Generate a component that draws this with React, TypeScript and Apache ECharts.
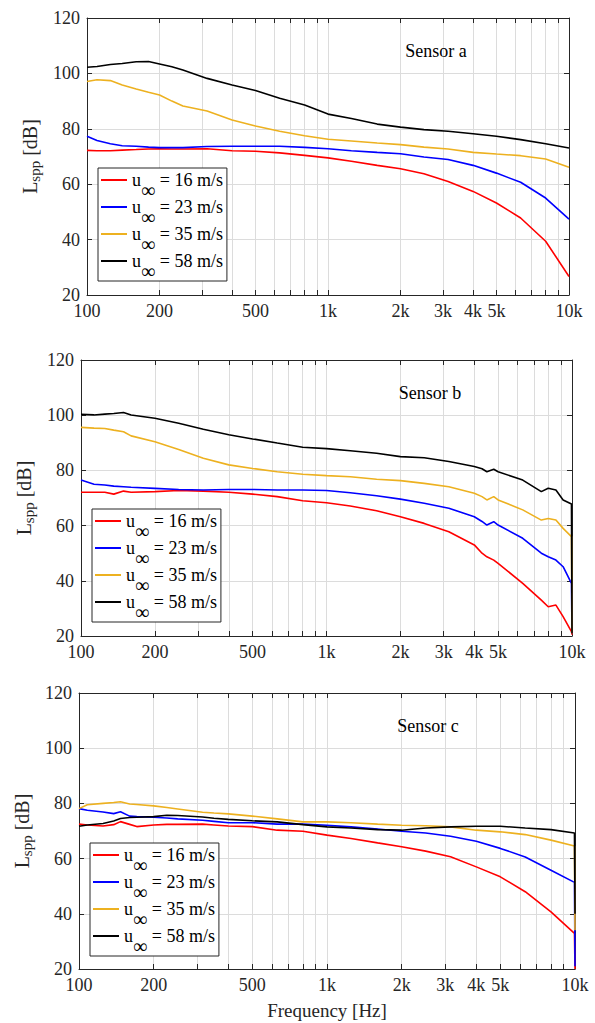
import React, { useEffect, useRef } from "react";
import * as echarts from "echarts";

// ---------- data ----------
const seriesNames = ["u∞ = 16 m/s", "u∞ = 23 m/s", "u∞ = 35 m/s", "u∞ = 58 m/s"];
const seriesColors = ["#FF0000", "#0000FF", "#EDB120", "#000000"];
const panelTitles = ["Sensor a", "Sensor b", "Sensor c"];

const xLabelValues = [100, 200, 500, 1000, 2000, 3000, 4000, 5000, 10000];
const xTickValues = [100, 200, 300, 400, 500, 600, 700, 800, 900, 1000, 2000, 3000, 4000, 5000, 6000, 7000, 8000, 9000, 10000];

// Sensor a
const freqA = [100, 110, 125, 140, 160, 180, 200, 225, 250, 315, 400, 500, 630, 800, 1000, 1250, 1600, 2000, 2500, 3150, 4000, 5000, 6300, 8000, 10000];
const a16 = [72.2, 72.1, 72.1, 72.3, 72.5, 72.7, 72.8, 72.7, 72.7, 72.8, 72.1, 71.9, 71.3, 70.4, 69.5, 68.3, 66.8, 65.6, 63.8, 61.0, 57.4, 53.2, 47.8, 39.4, 26.7];
const a23 = [77.3, 75.8, 74.6, 73.9, 73.7, 73.4, 73.2, 73.2, 73.2, 73.6, 73.7, 73.7, 73.7, 73.3, 72.8, 72.1, 71.5, 71.0, 69.8, 68.9, 66.8, 64.0, 60.7, 55.0, 47.4];
const a35 = [97.1, 97.7, 97.4, 95.8, 94.4, 93.2, 92.2, 90.0, 88.2, 86.4, 83.2, 81.0, 79.1, 77.5, 76.2, 75.6, 74.9, 74.3, 73.4, 72.7, 71.5, 70.9, 70.3, 69.1, 66.1];
const a58 = [102.2, 102.5, 103.2, 103.6, 104.2, 104.3, 103.4, 102.4, 101.2, 98.2, 95.8, 93.8, 91.0, 88.6, 85.3, 83.7, 81.7, 80.6, 79.7, 79.1, 78.2, 77.3, 76.1, 74.6, 73.1];

// Sensor b
const freqB = [100, 113, 125, 136, 149, 160, 200, 250, 315, 400, 500, 630, 800, 1000, 1250, 1600, 2000, 2500, 3150, 4000, 4300, 4500, 4800, 5000, 6300, 7500, 8000, 8600, 9200, 9950, 10000];
const b16 = [72.1, 72.1, 72.1, 71.4, 72.5, 72.1, 72.3, 72.7, 72.5, 72.1, 71.4, 70.5, 69.0, 68.3, 67.1, 65.4, 63.2, 60.8, 57.8, 53.0, 50.0, 48.7, 47.5, 46.3, 39.1, 33.0, 30.6, 31.2, 27.0, 21.6, 20.5];
const b23 = [76.5, 75.0, 74.7, 74.3, 74.1, 73.9, 73.5, 73.1, 72.9, 73.1, 73.1, 72.9, 72.9, 72.7, 71.9, 70.8, 69.6, 68.1, 66.3, 63.2, 61.5, 60.2, 61.4, 60.2, 55.4, 50.0, 48.7, 47.5, 45.1, 39.1, 21.0];
const b35 = [95.6, 95.3, 95.2, 94.6, 94.0, 92.5, 90.4, 87.6, 84.4, 82.0, 80.7, 79.5, 78.6, 78.1, 77.7, 76.8, 76.3, 75.3, 74.1, 71.7, 70.5, 69.3, 70.5, 69.3, 65.7, 62.0, 62.6, 62.0, 59.0, 56.0, 21.0];
const b58 = [100.3, 100.1, 100.4, 100.6, 101.0, 100.1, 98.9, 97.1, 94.9, 92.9, 91.4, 89.9, 88.4, 87.9, 87.1, 86.2, 85.0, 84.6, 83.2, 81.4, 80.6, 79.5, 80.4, 79.5, 76.5, 72.3, 73.5, 72.9, 69.3, 67.8, 21.0];

// Sensor c
const freqC = [100, 108, 125, 138, 147, 160, 171, 200, 226, 250, 315, 350, 400, 500, 630, 800, 1000, 1250, 1600, 2000, 2500, 3150, 4000, 5000, 6300, 8000, 9950, 10000];
const c16 = [72.5, 72.2, 71.8, 72.3, 73.4, 72.4, 71.6, 72.2, 72.4, 72.4, 72.5, 72.2, 71.8, 71.6, 70.3, 69.9, 68.5, 67.3, 65.7, 64.3, 62.7, 60.7, 57.0, 53.4, 48.0, 40.7, 32.9, 20.0];
const c23 = [78.1, 77.5, 76.9, 76.3, 77.0, 75.4, 75.2, 75.0, 74.7, 74.4, 73.9, 73.5, 73.0, 73.0, 72.5, 72.5, 72.1, 71.5, 70.7, 69.9, 69.3, 68.1, 66.3, 63.7, 60.6, 55.8, 51.4, 21.0];
const c35 = [78.1, 79.5, 80.0, 80.3, 80.6, 79.8, 79.6, 79.1, 78.5, 78.0, 76.8, 76.5, 76.2, 75.4, 74.4, 73.3, 73.3, 73.0, 72.5, 72.1, 71.9, 71.5, 70.3, 69.7, 68.7, 66.7, 64.6, 34.0];
const c58 = [71.7, 72.2, 72.7, 73.6, 74.5, 74.9, 75.0, 75.2, 75.7, 75.6, 75.1, 74.6, 74.2, 73.7, 73.3, 72.3, 71.5, 71.1, 70.5, 70.3, 71.1, 71.5, 71.7, 71.7, 71.1, 70.5, 69.3, 40.0];

const panels = [
  { freq: freqA, values: [a16, a23, a35, a58] },
  { freq: freqB, values: [b16, b23, b35, b58] },
  { freq: freqC, values: [c16, c23, c35, c58] },
];

// ---------- layout ----------
const FONT = "Liberation Serif";
const AXIS_COLOR = "#262626";
const GRID_COLOR = "#DCDCDC";
const grids = [
  { left: 87, top: 18, width: 482, height: 277 },
  { left: 81, top: 360, width: 491, height: 276 },
  { left: 79, top: 693, width: 496, height: 276 },
];
const legendPos = [
  { left: 98, top: 168 },
  { left: 92, top: 509 },
  { left: 90, top: 843 },
];

const lg = (v: number) => Math.log10(v);
const fmtFreq = (v: number) => {
  const f = Math.round(Math.pow(10, v));
  return f >= 1000 ? `${Math.round(f / 1000)}k` : `${f}`;
};

const labelFont = { fontFamily: FONT, fontSize: 18, color: AXIS_COLOR };

function buildOption() {
  const xAxis: any[] = [];
  const yAxis: any[] = [];
  const series: any[] = [];
  const legend: any[] = [];
  const graphic: any[] = [];

  grids.forEach((g, i) => {
    const tickCommon = {
      show: true,
      inside: true,
      length: 5,
      customValues: xTickValues.map(lg),
      lineStyle: { color: AXIS_COLOR, width: 1 },
    };
    xAxis.push({
      type: "value",
      gridIndex: i,
      position: "bottom",
      min: 2,
      max: 4,
      axisLine: { show: true, onZero: false, lineStyle: { color: AXIS_COLOR, width: 1 } },
      axisTick: tickCommon,
      axisLabel: {
        customValues: xLabelValues.map(lg),
        formatter: (v: number) => fmtFreq(v),
        ...labelFont,
        margin: 7,
      },
      splitLine: { show: true, lineStyle: { color: GRID_COLOR, width: 1 } },
      name: i === 2 ? "Frequency [Hz]" : "",
      nameLocation: "middle",
      nameGap: 32,
      nameTextStyle: { fontFamily: FONT, fontSize: 19, color: AXIS_COLOR },
    });
    xAxis.push({
      type: "value",
      gridIndex: i,
      position: "top",
      min: 2,
      max: 4,
      axisLine: { show: true, onZero: false, lineStyle: { color: AXIS_COLOR, width: 1 } },
      axisTick: tickCommon,
      axisLabel: { show: false },
      splitLine: { show: false },
    });
    yAxis.push({
      type: "value",
      gridIndex: i,
      position: "left",
      min: 20,
      max: 120,
      interval: 20,
      axisLine: { show: true, onZero: false, lineStyle: { color: AXIS_COLOR, width: 1 } },
      axisTick: { show: true, inside: true, length: 5, lineStyle: { color: AXIS_COLOR } },
      axisLabel: { ...labelFont, margin: 7 },
      splitLine: { show: true, lineStyle: { color: GRID_COLOR, width: 1 } },
      name: "{L|L}{s|spp}{t| [dB]}",
      nameLocation: "middle",
      nameGap: 40,
      nameTextStyle: {
        fontFamily: FONT,
        color: AXIS_COLOR,
        fontSize: 20,
        rich: {
          L: { fontFamily: FONT, fontSize: 20, color: AXIS_COLOR },
          s: { fontFamily: FONT, fontSize: 15, color: AXIS_COLOR, padding: [10, 0, 0, 0] },
          t: { fontFamily: FONT, fontSize: 20, color: AXIS_COLOR },
        },
      },
    });
    yAxis.push({
      type: "value",
      gridIndex: i,
      position: "right",
      min: 20,
      max: 120,
      interval: 20,
      axisLine: { show: true, onZero: false, lineStyle: { color: AXIS_COLOR, width: 1 } },
      axisTick: { show: true, inside: true, length: 5, lineStyle: { color: AXIS_COLOR } },
      axisLabel: { show: false },
      splitLine: { show: false },
    });

    const p = panels[i];
    p.values.forEach((vals, k) => {
      series.push({
        type: "line",
        name: seriesNames[k],
        xAxisIndex: i * 2,
        yAxisIndex: i * 2,
        data: p.freq.map((f, j) => [lg(f), vals[j]]),
        showSymbol: false,
        symbol: "none",
        lineStyle: { color: seriesColors[k], width: 1.6 },
        itemStyle: { color: seriesColors[k] },
        z: 3 + k,
      });
    });

    legend.push({
      orient: "vertical",
      left: legendPos[i].left,
      top: legendPos[i].top,
      icon: "rect",
      itemWidth: 26,
      itemHeight: 2,
      itemGap: -2,
      padding: [3, 4, 0, 3],
      borderColor: AXIS_COLOR,
      borderWidth: 1,
      backgroundColor: "#ffffff",
      selectedMode: false,
      data: seriesNames,
      formatter: (name: string) => {
        const rest = name.replace("u∞", "");
        return `{u|u}{s|∞}{t|${rest}}`;
      },
      textStyle: {
        fontFamily: FONT,
        fontSize: 18,
        color: "#000",
        rich: {
          u: { fontFamily: FONT, fontSize: 18, color: "#000" },
          s: { fontFamily: FONT, fontSize: 20, color: "#000", padding: [20, 0, 0, 0] },
          t: { fontFamily: FONT, fontSize: 18, color: "#000" },
        },
      },
    });

    graphic.push({
      type: "text",
      x: g.left + 349,
      y: g.top + 33,
      style: {
        text: panelTitles[i],
        fontFamily: FONT,
        fontSize: 18,
        fill: "#000",
        textAlign: "center",
        textVerticalAlign: "middle",
      },
      z: 10,
    });
  });

  return {
    animation: false,
    backgroundColor: "#ffffff",
    textStyle: { fontFamily: FONT },
    grid: grids.map((g) => ({ ...g, containLabel: false })),
    xAxis,
    yAxis,
    series,
    legend,
    graphic,
  };
}

export default function App() {
  const ref = useRef<HTMLDivElement>(null);
  useEffect(() => {
    if (!ref.current) return;
    const chart = echarts.init(ref.current, undefined, { renderer: "svg" });
    chart.setOption(buildOption() as any);
    return () => chart.dispose();
  }, []);
  return (
    <div
      ref={ref}
      style={{ position: "fixed", left: 0, top: 0, width: 595, height: 1023, background: "#fff" }}
    />
  );
}
